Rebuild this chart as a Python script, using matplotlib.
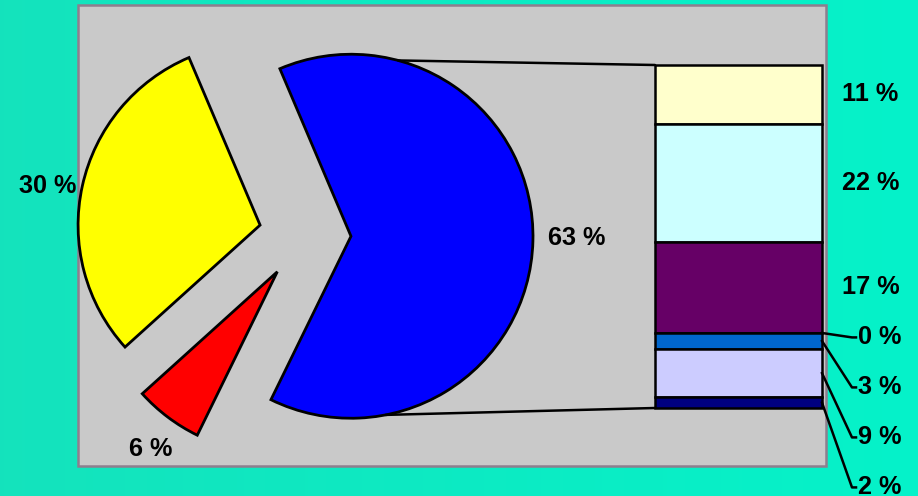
import matplotlib
matplotlib.use("Agg")
import matplotlib.pyplot as plt
from matplotlib.patches import Rectangle, ConnectionPatch
import numpy as np

# Main pie: three shares (the blue one is broken down in the bar)
pie_values = [30, 6, 63]
pie_labels = ["30 %", "6 %", "63 %"]
pie_colors = ["#FFFF00", "#FF0000", "#0000FF"]

# Breakdown of the blue share, top to bottom
bar_values = [11, 22, 17, 0, 3, 9, 2]
bar_labels = ["11 %", "22 %", "17 %", "0 %", "3 %", "9 %", "2 %"]
bar_colors = ["#FFFFCC", "#CCFFFF", "#660066", "#FF8080", "#0066CC", "#CCCCFF", "#000080"]

W, H = 918, 496
FONT = dict(family="Liberation Sans", fontweight="bold", fontsize=18.2, color="black")

fig = plt.figure(figsize=(W / 100, H / 100), dpi=100)

# teal gradient backdrop
bg = fig.add_axes([0, 0, 1, 1])
bg.set_axis_off()
t = np.linspace(0, 1, 256)
c_left = np.array([0.08, 0.89, 0.74])
c_right = np.array([0.02, 0.95, 0.79])
grad = c_left[None, None, :] * (1 - t[None, :, None]) + c_right[None, None, :] * t[None, :, None]
bg.imshow(grad, aspect="auto", extent=[0, 1, 0, 1])
bg.set_xlim(0, 1)
bg.set_ylim(0, 1)

# pixel-scaled axes for the plot area and pie
ax = fig.add_axes([0, 0, 1, 1])
ax.patch.set_alpha(0)
ax.add_patch(Rectangle((78, 30), 748, 461, facecolor="#C9C9C9",
                       edgecolor="#8E7E8E", linewidth=1.8, zorder=0))

wedges, _ = ax.pie(pie_values, colors=pie_colors, startangle=113, counterclock=True,
                   radius=182, center=(305, 261), explode=[46, 46, 46],
                   wedgeprops=dict(edgecolor="black", linewidth=2.0))
ax.set_xlim(0, W)
ax.set_ylim(0, H)
ax.set_aspect("equal")
ax.set_axis_off()

# labels just outside each wedge's arc
label_style = [((-6, 0), "right", "center"),
               ((-17, -32), "center", "center"),
               ((15, 3), "left", "center")]
for w, lab, (off, ha, va) in zip(wedges, pie_labels, label_style):
    mid = np.deg2rad((w.theta1 + w.theta2) / 2)
    cx, cy = w.center
    anchor = (cx + w.r * np.cos(mid), cy + w.r * np.sin(mid))
    ax.annotate(lab, xy=anchor, xytext=off, textcoords="offset pixels",
                ha=ha, va=va, **FONT)

# stacked breakdown bar
bx0, by0, bw, bh = 655, 88, 167, 343
ax_bar = fig.add_axes([bx0 / W, by0 / H, bw / W, bh / H])
ax_bar.set_axis_off()
total = sum(bar_values)
bottoms = total - np.cumsum(bar_values)
ax_bar.bar(0.5, bar_values, bottom=bottoms, width=1.0, color=bar_colors,
           edgecolor="black", linewidth=1.8, clip_on=False)
ax_bar.set_xlim(0, 1)
ax_bar.set_ylim(0, total)

# labels right of the bar, pushed down when segments are too thin
ppu = bh / total
spacing = 50
prev = None
for v, b, lab in zip(bar_values, bottoms, bar_labels):
    center = (b + v / 2) * ppu
    y = center if prev is None else min(center, prev - spacing)
    moved = prev is not None and center > prev - spacing
    prev = y
    if moved:
        xs = [1, 1 + 30 / bw, 1 + 34 / bw]
        ys = [center / ppu, y / ppu, y / ppu]
        ax_bar.plot(xs, ys, color="black", linewidth=1.8, clip_on=False)
        ax_bar.text(1 + 36 / bw, y / ppu, lab, ha="left", va="center",
                    clip_on=False, **FONT)
    else:
        ax_bar.text(1 + 20 / bw, y / ppu, lab, ha="left", va="center",
                    clip_on=False, **FONT)

# series lines from the blue wedge to the bar's corners
blue = wedges[2]
bcx, bcy = blue.center
for ang, ycorner in ((75, total), (-79, 0)):
    a = np.deg2rad(ang)
    p = (bcx + blue.r * np.cos(a), bcy + blue.r * np.sin(a))
    con = ConnectionPatch(xyA=p, coordsA=ax.transData, xyB=(0, ycorner),
                          coordsB=ax_bar.transData, color="black", linewidth=1.8)
    fig.add_artist(con)

fig.savefig("out.png", dpi=100)
